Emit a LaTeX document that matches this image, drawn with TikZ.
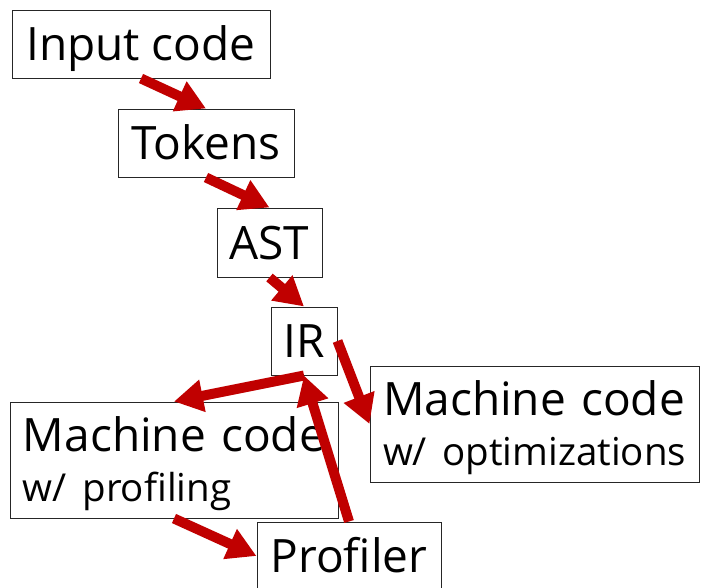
\documentclass[tikz,border=0pt]{standalone}
\usepackage{fontspec}
\setmainfont{Open Sans}
\usetikzlibrary{arrows.meta,positioning}
\definecolor{arrowred}{HTML}{C00000}
\newcommand\subline[1]{\mbox{\fontsize{38.5}{42}\selectfont #1}}

\begin{document}
\begin{tikzpicture}[x=1pt,y=-1pt,
    stage/.style={draw=black!85,line width=1pt,fill=white,inner sep=0pt,
        font=\fontsize{46}{50}\selectfont,text height=33pt,text depth=0pt},
    twoline/.style={stage,inner xsep=13pt,align=left,text depth=50pt},
    flow/.style={draw=arrowred,line width=10pt,
        -{Triangle[length=29pt,width=31pt]}}]

    \useasboundingbox (0,0) rectangle (701,587);

    % the stages
    \node[stage,minimum width=258pt,minimum height=68pt] (input) at (141,44) {Input code};
    \node[stage,minimum width=176pt,minimum height=68pt] (tokens) at (206,143) {Tokens};
    \node[stage,minimum width=105pt,minimum height=69pt] (ast) at (269.5,242.5) {AST};
    \node[stage,minimum width=66pt,minimum height=68pt] (ir) at (304,341) {IR};
    \node[twoline,text width=302pt,minimum height=116pt] (mprof) at (174,460)
        {Machine code\\\subline{w/ profiling}};
    \node[twoline,text width=303pt,minimum height=116pt] (mopt) at (534.5,424)
        {Machine code\\\subline{w/ optimizations}};
    \node[stage,minimum width=184pt,minimum height=68pt] (profiler) at (349,556) {Profiler};

    % connectors
    \draw[flow] (input.south) -- (tokens.north);
    \draw[flow] (tokens.south) -- (ast.north);
    \draw[flow] (ast.south) -- (ir.north);
    \draw[flow] (ir.east) -- (mopt.west);
    \draw[flow] (ir.south) -- (mprof.north);
    \draw[flow] (profiler.north) -- (ir.south);
    \draw[flow] (mprof.south) -- (profiler.west);

\end{tikzpicture}
\end{document}
